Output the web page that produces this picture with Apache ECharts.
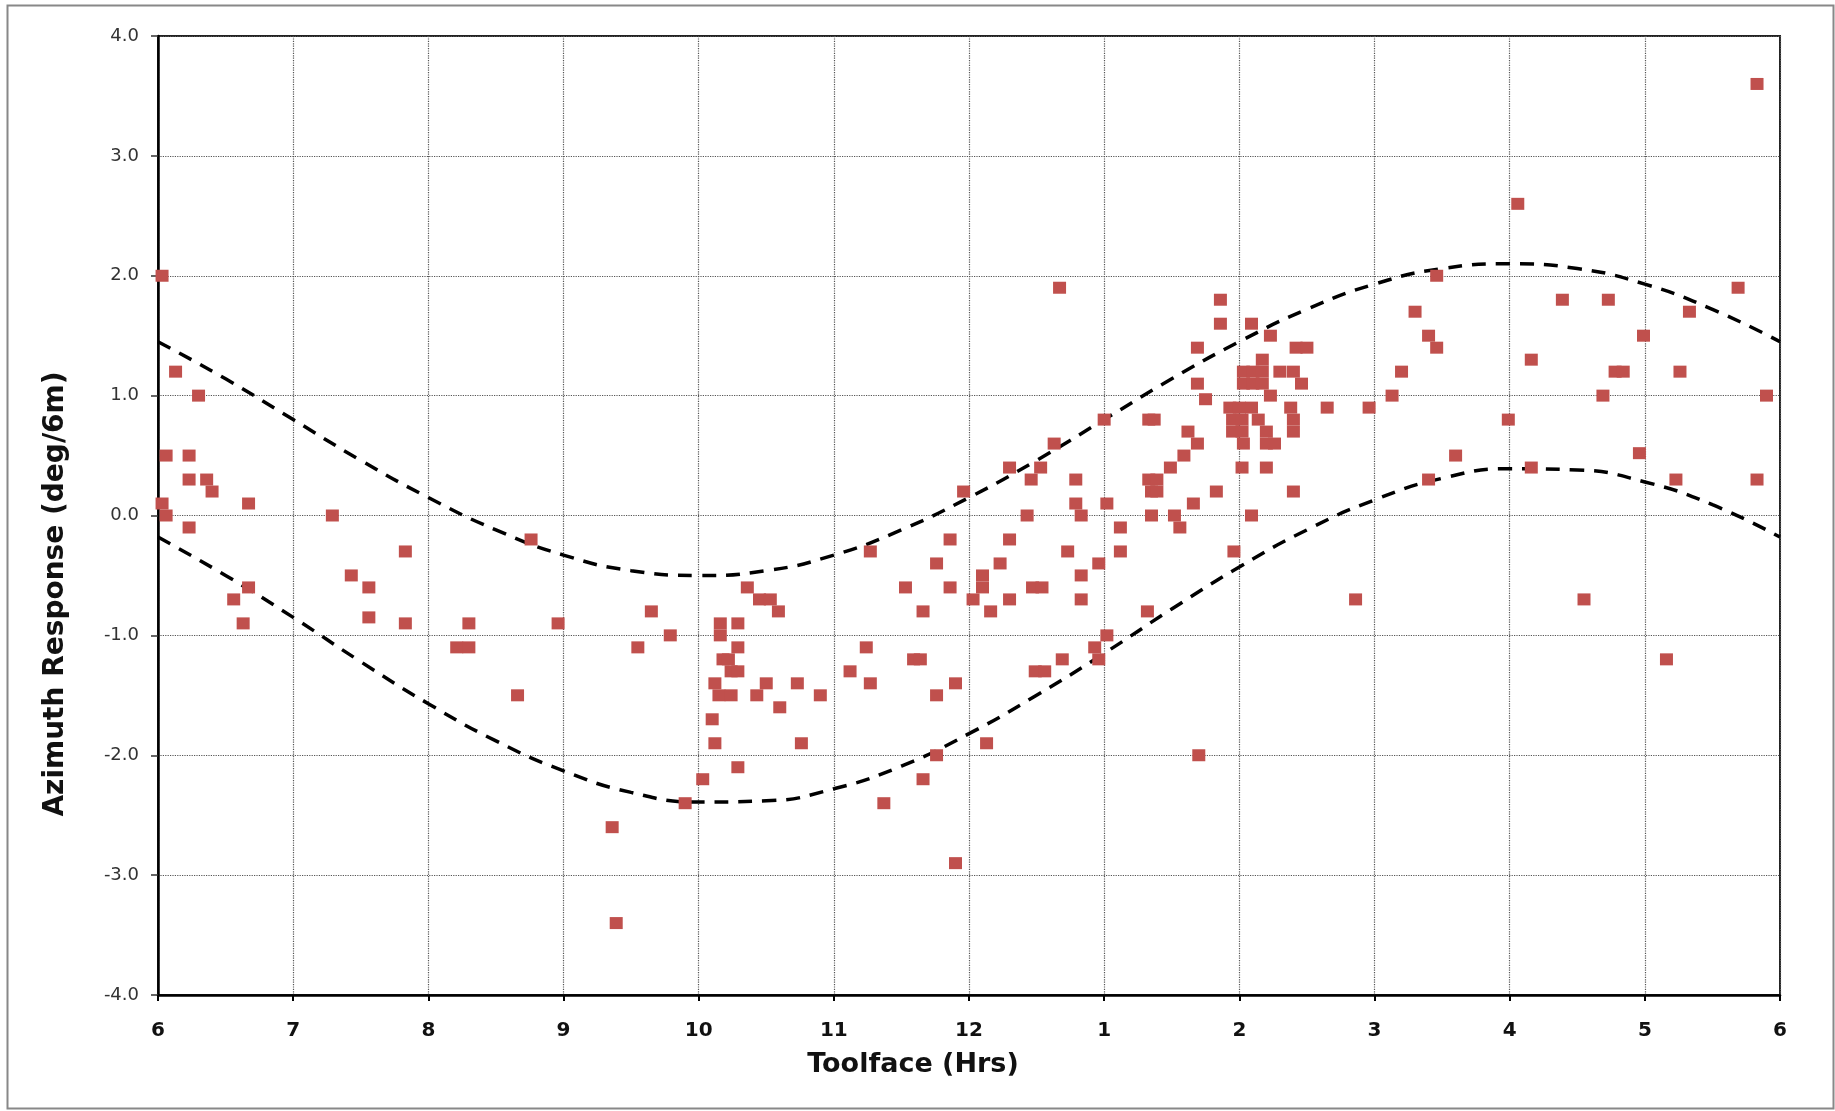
<!DOCTYPE html>
<html>
<head>
<meta charset="utf-8">
<script src="https://cdn.jsdelivr.net/npm/echarts@6/dist/echarts.min.js"></script>
<style>
html,body{margin:0;padding:0;background:#fff;}
#chart{width:1835px;height:1111px;}
</style>
</head>
<body>
<div id="chart"></div>
<script>
// ---- Data ----
// Toolface in clock hours (6 = 6 o'clock ... 12, 13 = 1 o'clock ... 18 = 6 o'clock)
const toolfaceHrs = [
  6.03,6.13,6.30,6.06,6.23,6.23,6.36,6.40,6.03,6.06,6.67,6.23,7.29,8.76,7.83,7.43,7.56,6.67,6.56,6.63,
  7.56,7.83,8.30,8.96,8.21,8.30,8.66,9.36,9.39,9.65,9.79,9.55,9.90,10.03,10.10,10.12,10.29,10.36,10.45,10.53,
  10.59,10.16,10.16,10.29,10.29,10.18,10.22,10.24,10.29,10.12,10.15,10.24,10.50,10.43,10.73,10.90,10.60,10.76,11.12,11.24,
  11.27,11.37,11.27,11.53,11.59,11.64,11.66,11.66,11.76,11.76,11.76,11.86,11.86,11.90,11.90,11.96,12.03,12.10,12.10,12.13,
  12.16,12.23,12.30,12.30,12.30,12.43,12.46,12.47,12.54,12.49,12.56,12.53,12.63,12.67,12.69,12.73,12.79,12.79,12.83,12.83,
  12.83,12.93,12.96,12.96,13.00,13.02,13.02,13.12,13.12,13.33,13.37,13.33,13.39,13.35,13.39,13.35,13.32,13.49,13.52,13.56,
  13.59,13.62,13.69,13.66,13.69,13.69,13.75,13.70,13.83,13.86,13.86,13.93,13.96,14.00,14.09,13.95,14.02,13.95,14.02,14.03,
  14.14,14.20,14.20,14.26,14.02,14.20,14.09,14.09,14.23,14.42,14.50,14.03,14.03,14.10,14.10,14.17,14.17,14.17,14.30,14.40,
  14.46,14.23,14.38,14.40,14.40,14.40,14.65,14.86,14.96,15.13,15.20,15.30,15.40,15.46,15.46,15.40,15.60,15.99,16.06,16.16,
  16.16,16.39,16.55,16.69,16.73,16.78,16.84,16.96,16.99,17.16,17.23,17.26,17.33,17.69,17.83,17.83,17.90
];
// Azimuth response (deg/6m), same order as toolfaceHrs
const azimuthResp = [
  2.0,1.2,1.0,0.5,0.5,0.3,0.3,0.2,0.1,0.0,0.1,-0.1,0.0,-0.2,-0.3,-0.5,-0.6,-0.6,-0.7,-0.9,
  -0.85,-0.9,-0.9,-0.9,-1.1,-1.1,-1.5,-2.6,-3.4,-0.8,-1.0,-1.1,-2.4,-2.2,-1.7,-1.9,-2.1,-0.6,-0.7,-0.7,
  -0.8,-0.9,-1.0,-0.9,-1.1,-1.2,-1.2,-1.3,-1.3,-1.4,-1.5,-1.5,-1.4,-1.5,-1.4,-1.5,-1.6,-1.9,-1.3,-1.1,
  -1.4,-2.4,-0.3,-0.6,-1.2,-1.2,-0.8,-2.2,-0.4,-1.5,-2.0,-0.2,-0.6,-1.4,-2.9,0.2,-0.7,-0.5,-0.6,-1.9,
  -0.8,-0.4,0.4,-0.2,-0.7,0.0,0.3,-0.6,-0.6,-1.3,-1.3,0.4,0.6,1.9,-1.2,-0.3,0.3,0.1,0.0,-0.5,
  -0.7,-1.1,-0.4,-1.2,0.8,0.1,-1.0,-0.1,-0.3,0.8,0.8,0.3,0.3,0.2,0.2,0.0,-0.8,0.4,0.0,-0.1,
  0.5,0.7,0.6,0.1,1.4,1.1,0.97,-2.0,0.2,1.8,1.6,0.9,-0.3,0.9,0.9,0.8,0.8,0.7,0.7,0.6,
  0.8,0.7,0.6,0.6,0.4,0.4,0.0,1.6,1.5,1.4,1.4,1.1,1.2,1.1,1.2,1.3,1.2,1.1,1.2,1.2,
  1.1,1.0,0.9,0.8,0.7,0.2,0.9,-0.7,0.9,1.0,1.2,1.7,1.5,1.4,2.0,0.3,0.5,0.8,2.6,1.3,
  0.4,1.8,-0.7,1.0,1.8,1.2,1.2,0.52,1.5,-1.2,0.3,1.2,1.7,1.9,3.6,0.3,1.0
];
// Dashed envelope curves, read every half hour
const envelopeHrs = [6,6.5,7,7.5,8,8.5,9,9.5,10,10.5,11,11.5,12,12.5,13,13.5,14,14.5,15,15.5,16,16.5,17,17.5,18];
const upperEnv = [1.45,1.14,0.80,0.46,0.15,-0.12,-0.33,-0.46,-0.50,-0.46,-0.33,-0.12,0.15,0.46,0.80,1.14,1.45,1.72,1.93,2.06,2.10,2.06,1.93,1.72,1.45];
const lowerEnv = [-0.18,-0.50,-0.85,-1.22,-1.57,-1.88,-2.13,-2.31,-2.39,-2.38,-2.28,-2.09,-1.82,-1.50,-1.15,-0.78,-0.43,-0.12,0.13,0.31,0.39,0.38,0.28,0.09,-0.18];
// Tick labels and titles
const hourLabels = ['6','7','8','9','10','11','12','1','2','3','4','5','6'];
const xTitle = 'Toolface (Hrs)';
const yTitle = 'Azimuth Response (deg/6m)';

const scatterData = toolfaceHrs.map((h, i) => [h, azimuthResp[i]]);
const upperData = envelopeHrs.map((h, i) => [h, upperEnv[i]]);
const lowerData = envelopeHrs.map((h, i) => [h, lowerEnv[i]]);

const chart = echarts.init(document.getElementById('chart'), null, {renderer: 'canvas'});
const dashStyle = {color: '#000', width: 3.5, type: [14, 10]};
chart.setOption({
  animation: false,
  backgroundColor: '#fff',
  grid: {left: 158, right: 55, top: 36, bottom: 116, show: true, borderColor: '#222', borderWidth: 2, outerBoundsMode: 'none'},
  xAxis: {
    type: 'value', min: 6, max: 18, interval: 1,
    axisLine: {show: true, onZero: false, lineStyle: {color: '#000', width: 2.5}},
    axisTick: {show: true, length: 6, lineStyle: {color: '#000', width: 2}},
    axisLabel: {
      formatter: v => hourLabels[Math.round(v - 6)],
      fontFamily: 'DejaVu Sans', fontWeight: 'bold', fontSize: 20, color: '#111', margin: 26
    },
    splitLine: {show: true, lineStyle: {type: 'dotted', color: '#555', width: 1.2}}
  },
  yAxis: {
    type: 'value', min: -4, max: 4, interval: 1,
    axisLine: {show: true, onZero: false, lineStyle: {color: '#000', width: 2.5}},
    axisTick: {show: true, length: 7, lineStyle: {color: '#333', width: 1.5}},
    axisLabel: {
      formatter: v => v.toFixed(1),
      fontFamily: 'DejaVu Sans', fontSize: 18, color: '#333', margin: 19
    },
    splitLine: {show: true, lineStyle: {type: 'dotted', color: '#555', width: 1.2}}
  },
  graphic: [
    {type: 'rect', left: 5, top: 3, shape: {width: 1826, height: 1103}, style: {fill: 'none', stroke: '#888', lineWidth: 2}, silent: true},
    {type: 'text', x: 913, y: 1065,
     style: {text: xTitle, fontFamily: 'DejaVu Sans', fontWeight: 'bold', fontSize: 27, fill: '#111', align: 'center', verticalAlign: 'middle'}},
    {type: 'text', x: 56, y: 594, rotation: Math.PI / 2,
     style: {text: yTitle, fontFamily: 'DejaVu Sans', fontWeight: 'bold', fontSize: 28, fill: '#111', align: 'center', verticalAlign: 'middle'}}
  ],
  series: [
    {type: 'line', data: upperData, smooth: true, symbol: 'none', lineStyle: dashStyle, z: 2, silent: true},
    {type: 'line', data: lowerData, smooth: true, symbol: 'none', lineStyle: dashStyle, z: 2, silent: true},
    {type: 'scatter', data: scatterData, symbol: 'rect', symbolSize: [13, 12], itemStyle: {color: '#c0504d', opacity: 1}, z: 3}
  ]
});
</script>
</body>
</html>
